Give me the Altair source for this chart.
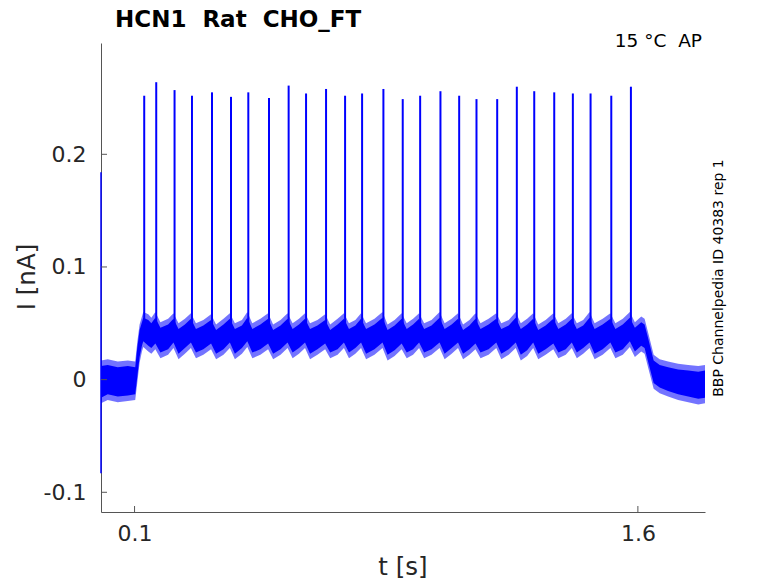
import altair as alt
import pandas as pd

# ---- data ----
spike_t = [0.1288, 0.1646, 0.2192, 0.2711, 0.3308, 0.3874, 0.4390, 0.5007, 0.5592,
           0.6111, 0.6707, 0.7274, 0.7781, 0.8416, 0.8992, 0.9511, 1.0116, 1.0674,
           1.1190, 1.1807, 1.2392, 1.2911, 1.3507, 1.4062, 1.4590, 1.5207, 1.5792]
spike_peak = [0.252, 0.264, 0.257, 0.252, 0.255, 0.251, 0.255, 0.250, 0.261,
              0.254, 0.258, 0.252, 0.254, 0.258, 0.249, 0.252, 0.256, 0.252,
              0.249, 0.249, 0.260, 0.256, 0.255, 0.254, 0.254, 0.252, 0.260]
spike_base = 0.045

env_t = [0.000, 0.020, 0.050, 0.080, 0.102, 0.108, 0.115, 0.122,
         0.126, 0.141, 0.150, 0.162, 0.177, 0.200, 0.216, 0.231, 0.250,
         0.268, 0.283, 0.305, 0.328, 0.343, 0.365, 0.384, 0.399, 0.420,
         0.436, 0.451, 0.475, 0.498, 0.513, 0.535, 0.556, 0.571, 0.590,
         0.608, 0.623, 0.645, 0.668, 0.683, 0.705, 0.724, 0.739, 0.758,
         0.775, 0.790, 0.815, 0.839, 0.854, 0.875, 0.896, 0.911, 0.930,
         0.948, 0.963, 0.985, 1.009, 1.024, 1.045, 1.064, 1.079, 1.098,
         1.116, 1.131, 1.155, 1.178, 1.193, 1.215, 1.236, 1.251, 1.270,
         1.288, 1.303, 1.325, 1.348, 1.363, 1.385, 1.403, 1.418, 1.437,
         1.456, 1.471, 1.495, 1.518, 1.533, 1.555, 1.576, 1.591,
         1.610, 1.620, 1.632, 1.647, 1.665, 1.690, 1.720, 1.750, 1.780, 1.800]
env_hi = [0.012, 0.013, 0.011, 0.012, 0.011, 0.028, 0.044, 0.051,
          0.055, 0.053, 0.050, 0.055, 0.046, 0.049, 0.054, 0.045, 0.049,
          0.054, 0.045, 0.048, 0.053, 0.044, 0.049, 0.054, 0.045, 0.048,
          0.055, 0.045, 0.049, 0.054, 0.044, 0.048, 0.054, 0.045, 0.049,
          0.054, 0.045, 0.048, 0.053, 0.044, 0.049, 0.054, 0.045, 0.048,
          0.054, 0.045, 0.049, 0.055, 0.044, 0.048, 0.054, 0.045, 0.049,
          0.054, 0.045, 0.048, 0.055, 0.045, 0.049, 0.054, 0.044, 0.048,
          0.054, 0.045, 0.049, 0.054, 0.045, 0.048, 0.055, 0.045, 0.049,
          0.054, 0.044, 0.048, 0.054, 0.045, 0.049, 0.054, 0.045, 0.048,
          0.055, 0.045, 0.049, 0.054, 0.045, 0.049, 0.055, 0.046,
          0.051, 0.049, 0.035, 0.017, 0.013, 0.011, 0.009, 0.008, 0.007, 0.008]
env_lo = [-0.016, -0.013, -0.015, -0.014, -0.013, 0.002, 0.020, 0.030,
          0.034, 0.030, 0.028, 0.032, 0.024, 0.027, 0.033, 0.023, 0.028,
          0.033, 0.024, 0.027, 0.032, 0.023, 0.027, 0.033, 0.023, 0.028,
          0.034, 0.024, 0.027, 0.032, 0.023, 0.027, 0.033, 0.024, 0.028,
          0.033, 0.023, 0.027, 0.032, 0.024, 0.027, 0.033, 0.024, 0.028,
          0.033, 0.023, 0.027, 0.033, 0.022, 0.026, 0.032, 0.024, 0.027,
          0.033, 0.024, 0.027, 0.033, 0.023, 0.028, 0.033, 0.023, 0.027,
          0.032, 0.024, 0.027, 0.033, 0.023, 0.027, 0.033, 0.022, 0.026,
          0.033, 0.023, 0.027, 0.032, 0.024, 0.027, 0.033, 0.024, 0.028,
          0.033, 0.023, 0.027, 0.033, 0.024, 0.027, 0.034, 0.025,
          0.030, 0.028, 0.014, -0.003, -0.007, -0.010, -0.013, -0.015, -0.017, -0.016]

transient_t = [0.0]
transient_lo = [-0.083]
transient_hi = [0.184]

x_ticks = [0.1, 1.6]
x_tick_labels = ["0.1", "1.6"]
y_ticks = [-0.1, 0.0, 0.1, 0.2]
y_tick_labels = ["-0.1", "0", "0.1", "0.2"]

NB = "\u00a0"
title_text = f"HCN1{NB}{NB}Rat{NB}{NB}CHO_FT"
info_text = f"15{NB}°C{NB}{NB}AP"
side_text = "BBP Channelpedia ID 40383 rep 1"
x_title = "t [s]"
y_title = "I [nA]"

# ---- chart ----
W, H = 604, 469
BLUE = "#0000FF"
FONT = "DejaVu Sans"
AXC = "#555555"
TXT = "#262626"
NOISE = 0.005  # half-width of the fuzzy noise fringe drawn around the core band

env = pd.DataFrame({"t": env_t, "hi": env_hi, "lo": env_lo})
spikes = pd.DataFrame({"t": spike_t, "peak": spike_peak, "base": [spike_base] * len(spike_t)})
trans = pd.DataFrame({"t": transient_t, "lo": transient_lo, "hi": transient_hi})


def label_expr(vals, labels):
    parts = []
    for v, l in zip(vals, labels):
        parts.append(f"abs(datum.value - ({v})) < 1e-6 ? '{l}' : ")
    return "".join(parts) + "''"


xscale = alt.Scale(domain=[0, 1.8], nice=False, zero=False)
yscale = alt.Scale(domain=[-0.1175, 0.2988], nice=False, zero=False)

x_axis = alt.Axis(values=x_ticks, labelExpr=label_expr(x_ticks, x_tick_labels), title=None,
                  ticks=False, tickSize=0, grid=False, domainColor=AXC, domainWidth=1,
                  labelFontSize=22, labelFont=FONT, labelColor=TXT, labelPadding=11)
y_axis = alt.Axis(values=y_ticks, labelExpr=label_expr(y_ticks, y_tick_labels), title=None,
                  ticks=False, tickSize=0, grid=False, domainColor=AXC, domainWidth=1,
                  labelFontSize=22, labelFont=FONT, labelColor=TXT, labelPadding=15)

X = lambda f: alt.X(f, scale=xscale, axis=x_axis)
Y = lambda f: alt.Y(f, scale=yscale, axis=y_axis)

fringe = alt.Chart(env).transform_calculate(
    hi2=f"datum.hi + {NOISE}", lo2=f"datum.lo - {NOISE}"
).mark_area(color=BLUE, opacity=0.55, interpolate="linear").encode(
    x=X("t:Q"), y=Y("hi2:Q"), y2="lo2:Q",
)

band = alt.Chart(env).mark_area(color=BLUE, interpolate="linear").encode(
    x=X("t:Q"), y=Y("hi:Q"), y2="lo:Q",
)

spk = alt.Chart(spikes).mark_rule(color=BLUE, strokeWidth=2).encode(
    x=X("t:Q"), y=Y("base:Q"), y2="peak:Q",
)

tr = alt.Chart(trans).mark_rule(color=BLUE, strokeWidth=1.5).encode(
    x=X("t:Q"), y=Y("lo:Q"), y2="hi:Q",
)

xt = alt.Chart(pd.DataFrame({"v": x_ticks})).mark_rule(color=AXC, strokeWidth=1).encode(
    x=X("v:Q"), y=alt.value(H), y2=alt.value(H - 6),
)
yt = alt.Chart(pd.DataFrame({"v": y_ticks})).mark_rule(color=AXC, strokeWidth=1).encode(
    y=Y("v:Q"), x=alt.value(0), x2=alt.value(6),
)

one = pd.DataFrame({"a": [0]})


def txt(text, x, y, size, align="left", baseline="alphabetic", angle=0, weight="normal", color="black"):
    kw = dict(align=align, baseline=baseline, fontSize=size, font=FONT, fontWeight=weight, color=color)
    if angle:
        kw["angle"] = angle
    return alt.Chart(one).mark_text(**kw).encode(
        x=alt.value(x), y=alt.value(y), text=alt.value(text)
    )


texts = [
    txt(title_text, 14, -16, 23, weight="bold"),
    txt(info_text, 601, 4, 18.5, align="right"),
    txt(side_text, 622, 235, 14, align="center", angle=270),
    txt(x_title, 302, 532, 24.5, align="center", color=TXT),
    txt(y_title, -66, 234, 24.5, align="center", angle=270, color=TXT),
]

chart = alt.layer(fringe, band, spk, tr, xt, yt, *texts).properties(
    width=W, height=H,
    autosize=alt.AutoSizeParams(type="none"),
    padding={"left": 93, "top": 35, "right": 60, "bottom": 70},
    background="white",
).configure_view(stroke=None)

chart.save("out.html", embed_options={"renderer": "svg", "actions": False})
